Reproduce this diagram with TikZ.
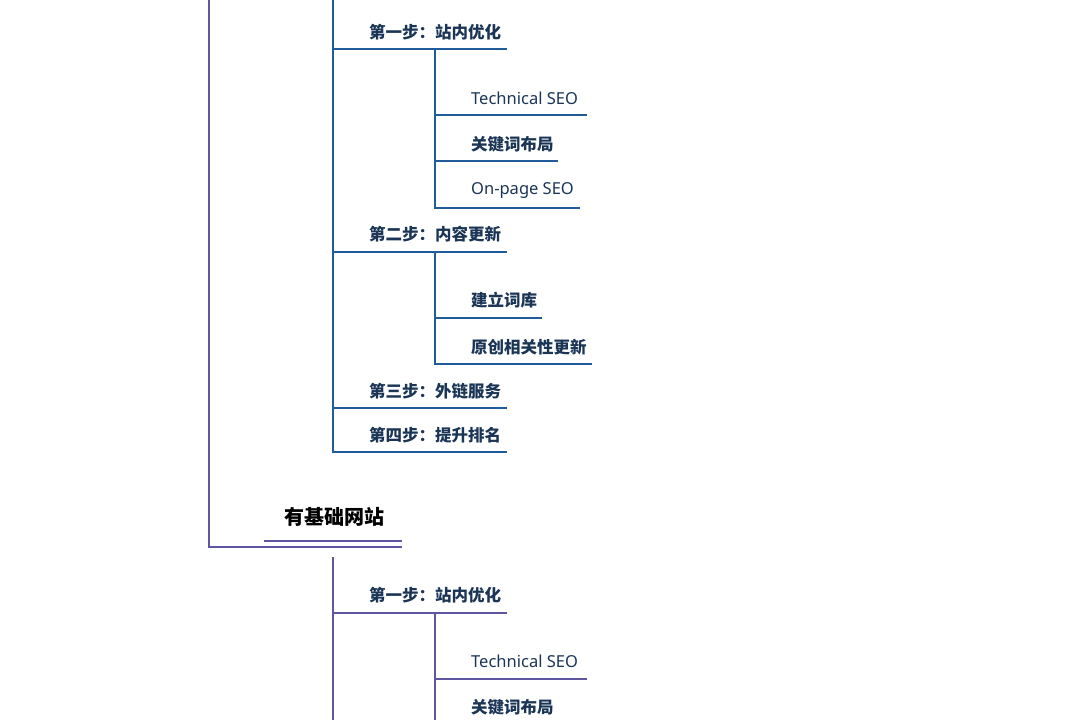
\documentclass[tikz,border=0pt]{standalone}
\usepackage{fontspec}
\setmainfont{Noto Sans}
\newfontfamily\cjk{Noto Sans CJK SC}
\definecolor{blu}{HTML}{1F5C99}
\definecolor{pur}{HTML}{5E56A0}
\definecolor{navy}{HTML}{1B3556}
\begin{document}
\begin{tikzpicture}[x=1pt,y=-1pt,
  lbl/.style={anchor=west,inner sep=0pt,text=navy,font=\fontsize{16.5}{18}\selectfont},
  zh/.style={lbl,font=\fontsize{16.5}{18}\selectfont\cjk\bfseries},
  bl/.style={draw=blu,line width=2pt},
  pl/.style={draw=pur,line width=2pt}]
\useasboundingbox (0,0) rectangle (1080,720);
% root purple
\node[anchor=west,inner sep=0pt,font=\fontsize{20}{22}\selectfont\cjk\bfseries] (jc) at (284,517) {有基础网站};
\coordinate (r0) at (209,0); \coordinate (r1) at (209,547); \coordinate (r2) at (402,547);
\coordinate (d1) at (264,541); \coordinate (d2) at (402,541);
\draw[pl] (r0) -- (r1) -- (r2);
\draw[pl] (d1) -- (d2);
% top blue tree
\coordinate (t0) at (333,0);
\node[zh] (a1) at (369,32) {第一步：站内优化};
\node[lbl] (a11) at (471,98) {Technical SEO};
\node[zh] (a12) at (471,144) {关键词布局};
\node[lbl] (a13) at (471,190) {On-page SEO};
\node[zh] (a2) at (369,234) {第二步：内容更新};
\node[zh] (a21) at (471,300) {建立词库};
\node[zh] (a22) at (471,347) {原创相关性更新};
\node[zh] (a3) at (369,391) {第三步：外链服务};
\node[zh] (a4) at (369,435) {第四步：提升排名};
\draw[bl] (t0) -- (333,452) -- (507,452);
\draw[bl] (333,49) -- (507,49);
\draw[bl] (333,252) -- (507,252);
\draw[bl] (333,408) -- (507,408);
\draw[bl] (435,49) -- (435,208) -- (580,208);
\draw[bl] (435,115) -- (587,115);
\draw[bl] (435,161) -- (558,161);
\draw[bl] (435,252) -- (435,364) -- (592,364);
\draw[bl] (435,318) -- (542,318);
% bottom purple tree
\node[zh] (b1) at (369,595) {第一步：站内优化};
\node[lbl] (b11) at (471,661) {Technical SEO};
\node[zh] (b12) at (471,707) {关键词布局};
\draw[pl] (333,557) -- (333,720);
\draw[pl] (333,613) -- (507,613);
\draw[pl] (435,613) -- (435,720);
\draw[pl] (435,679) -- (587,679);
\end{tikzpicture}
\end{document}
